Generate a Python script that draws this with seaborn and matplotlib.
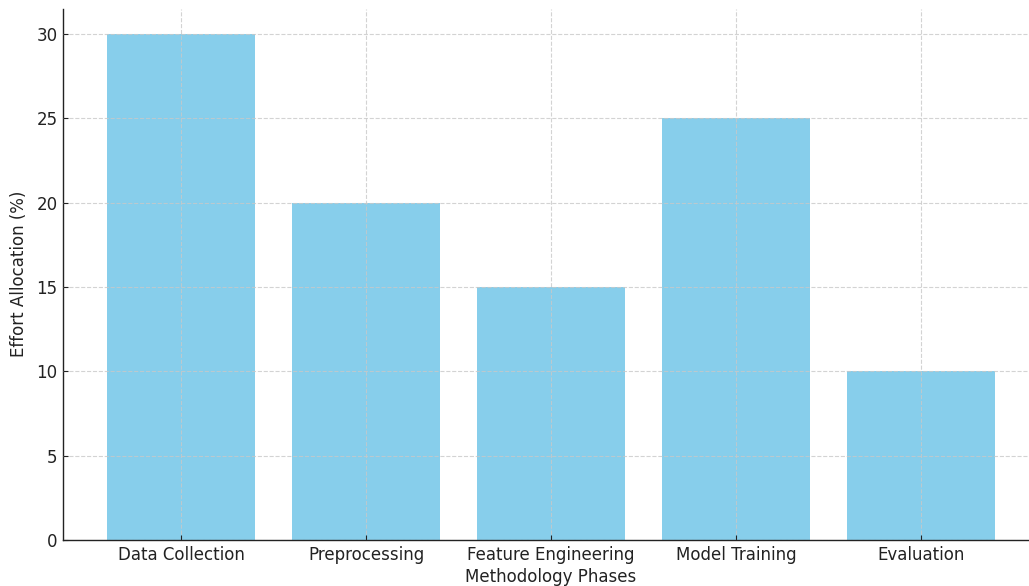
import pandas as pd
import seaborn as sns
import matplotlib.pyplot as plt

# Dados das fases da metodologia
fases = ['Data Collection', 'Preprocessing', 'Feature Engineering', 'Model Training', 'Evaluation']
esforco = [30, 20, 15, 25, 10]

dados = pd.DataFrame({'fase': fases, 'esforco': esforco})

sns.set_style('white')
plt.rcParams['font.family'] = ['DejaVu Sans']
plt.rcParams['text.color'] = '#222222'
plt.rcParams['axes.labelcolor'] = '#222222'
plt.rcParams['xtick.color'] = '#222222'
plt.rcParams['ytick.color'] = '#222222'

fig = plt.figure(figsize=(10.29, 5.86), dpi=100)
ax = fig.add_axes([63 / 1029, 1 - 540 / 586, 976 / 1029, (540 - 8.6) / 586])

sns.barplot(data=dados, x='fase', y='esforco', color='skyblue', saturation=1,
            width=0.8, linewidth=0, ax=ax)

ax.set_xlim(-0.64, 4.64)
ax.set_ylim(0, 31.5)
ax.set_xlabel('Methodology Phases', fontsize=12, labelpad=3)
ax.set_ylabel('Effort Allocation (%)', fontsize=12, labelpad=6)
ax.tick_params(labelsize=12, length=3.5, width=0.8, pad=4, direction='in')
ax.tick_params(axis='x', bottom=True)
ax.tick_params(axis='y', left=True)
ax.grid(True, linestyle='--', color='#c8c8c8', linewidth=0.8, alpha=0.8)
ax.set_axisbelow(False)
sns.despine(ax=ax)
for s in ['left', 'bottom']:
    ax.spines[s].set_color('#222222')
    ax.spines[s].set_linewidth(1.0)

plt.savefig('out.png', dpi=100)
